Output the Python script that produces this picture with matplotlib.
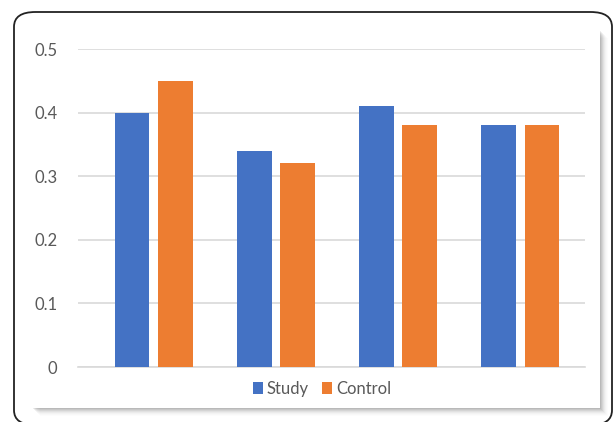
import numpy as np
import matplotlib
matplotlib.use('Agg')
import matplotlib.pyplot as plt
from matplotlib.patches import FancyBboxPatch, Rectangle

# data
groups = ['1', '2', '3', '4']
study = [0.40, 0.34, 0.41, 0.38]
control = [0.45, 0.32, 0.38, 0.38]
yticks = [0, 0.1, 0.2, 0.3, 0.4, 0.5]
ytick_labels = ['0', '0.1', '0.2', '0.3', '0.4', '0.5']

plt.rcParams['font.family'] = ['Lato', 'DejaVu Sans']

W, H = 613, 422
fig = plt.figure(figsize=(W / 100, H / 100), dpi=100)
fig.patch.set_facecolor('white')

def px(x, y, w, h):
    # pixel box (top-left origin) -> figure fraction
    return x / W, 1 - (y + h) / H, w / W, h / H

# outer rounded frame, bottom corners just past the edge
x0, y0, w0, h0 = px(14, 12, 598, 413)
fig.patches.append(FancyBboxPatch((x0, y0), w0, h0, boxstyle='round,pad=0,rounding_size=0.035',
                                  transform=fig.transFigure, facecolor='white',
                                  edgecolor='#222222', linewidth=1.3, zorder=0))
# soft shadow of inner panel
for i, a in enumerate([0.07, 0.06, 0.05, 0.04, 0.03, 0.02, 0.015, 0.01]):
    sx, sy, sw, sh = px(32 + 1 + i, 30 + 1 + i, 568, 378)
    fig.patches.append(Rectangle((sx, sy), sw, sh, transform=fig.transFigure,
                                 facecolor='black', alpha=a, edgecolor='none', zorder=1))
ix, iy, iw, ih = px(32, 30, 568, 378)
fig.patches.append(Rectangle((ix, iy), iw, ih, transform=fig.transFigure,
                             facecolor='white', edgecolor='none', zorder=2))

ax = fig.add_axes(px(78, 49, 507, 318))
ax.set_facecolor('none')
ax.set_zorder(3)

x = np.arange(len(groups))
bw = 0.285
ax.bar(x - 0.178, study, bw, color='#4472C4', label='Study', zorder=3)
ax.bar(x + 0.178, control, bw, color='#ED7D31', label='Control', zorder=3)

ax.set_xlim(-0.62, 3.53)
ax.set_ylim(0, 0.5)
ax.set_yticks(yticks)
ax.set_yticklabels(ytick_labels)
ax.set_xticks([])
ax.yaxis.grid(True, color='#D9D9D9', linewidth=1.2, zorder=0)
ax.tick_params(axis='y', length=0, pad=15, labelsize=12, labelcolor='#595959')
for s in ['top', 'right', 'left']:
    ax.spines[s].set_visible(False)
ax.spines['bottom'].set_color('#D9D9D9')
ax.spines['bottom'].set_linewidth(1.2)

ax.legend(loc='center', bbox_to_anchor=(322 / W, 1 - 389 / H), bbox_transform=fig.transFigure,
          ncol=2, frameon=False, fontsize=12, labelcolor='#595959',
          handlelength=0.6, handleheight=0.7, handletextpad=0.25, columnspacing=0.8)

fig.savefig('out.png', dpi=100, facecolor='white')
